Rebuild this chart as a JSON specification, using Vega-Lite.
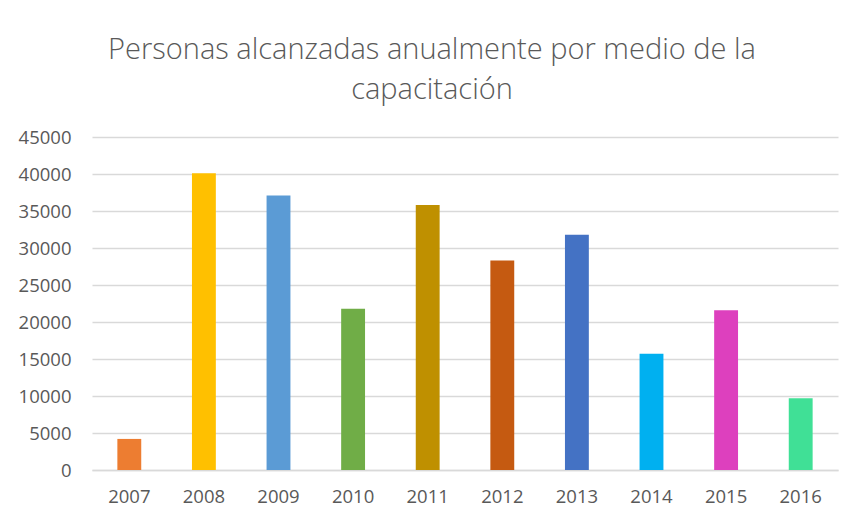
{
  "$schema": "https://vega.github.io/schema/vega-lite/v6.json",
  "autosize": {"type": "none"},
  "width": 746,
  "height": 333,
  "padding": {"left": 92, "top": 137, "right": 23, "bottom": 53},
  "background": "#ffffff",
  "title": {
    "text": ["Personas alcanzadas anualmente por medio de la", "capacitación"],
    "anchor": "middle",
    "frame": "group",
    "dx": -33,
    "offset": 23,
    "font": "Open Sans",
    "fontSize": 29,
    "fontWeight": 300,
    "color": "#595959",
    "lineHeight": 40
  },
  "data": {
    "values": [
      {"year": "2007", "value": 4200, "color": "#ED7D31"},
      {"year": "2008", "value": 40100, "color": "#FFC000"},
      {"year": "2009", "value": 37100, "color": "#5B9BD5"},
      {"year": "2010", "value": 21800, "color": "#70AD47"},
      {"year": "2011", "value": 35800, "color": "#BF9000"},
      {"year": "2012", "value": 28300, "color": "#C55A11"},
      {"year": "2013", "value": 31800, "color": "#4472C4"},
      {"year": "2014", "value": 15700, "color": "#00B0F0"},
      {"year": "2015", "value": 21600, "color": "#DD40BE"},
      {"year": "2016", "value": 9700, "color": "#40E096"}
    ]
  },
  "mark": {"type": "bar"},
  "encoding": {
    "x": {
      "field": "year",
      "type": "ordinal",
      "scale": {"paddingInner": 0.68, "paddingOuter": 0.34},
      "axis": {
        "title": null,
        "labelAngle": 0,
        "labelFont": "Open Sans",
        "labelFontSize": 18.5,
        "labelColor": "#595959",
        "labelPadding": 17,
        "ticks": false,
        "domainColor": "#d9d9d9",
        "domainWidth": 1.5
      }
    },
    "y": {
      "field": "value",
      "type": "quantitative",
      "scale": {"domain": [0, 45000], "nice": false},
      "axis": {
        "title": null,
        "values": [0, 5000, 10000, 15000, 20000, 25000, 30000, 35000, 40000, 45000],
        "format": "d",
        "labelFont": "Open Sans",
        "labelFontSize": 18.5,
        "labelColor": "#595959",
        "labelPadding": 21,
        "ticks": false,
        "domain": false,
        "gridColor": "#d9d9d9",
        "gridWidth": 1.5
      }
    },
    "color": {"field": "color", "type": "nominal", "scale": null, "legend": null}
  },
  "config": {"view": {"stroke": null}}
}
